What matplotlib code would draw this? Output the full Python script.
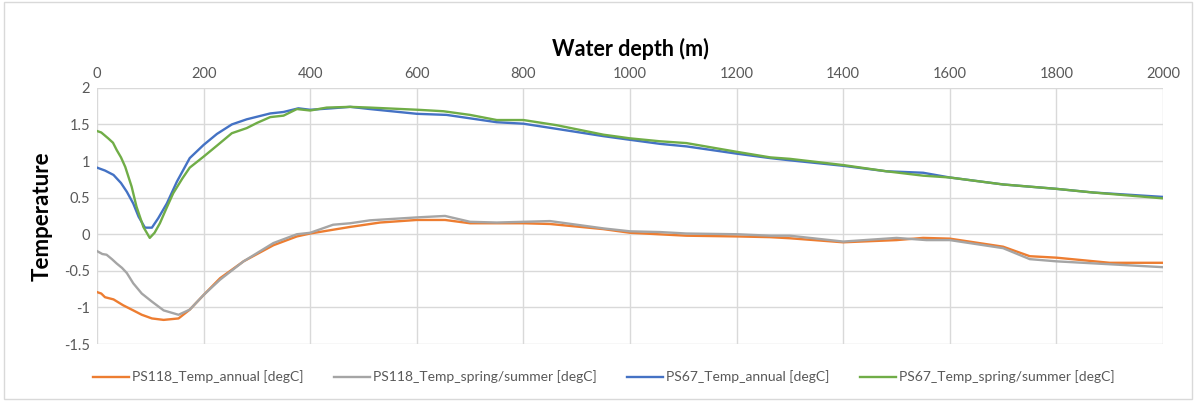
import matplotlib
matplotlib.use("Agg")
import matplotlib.pyplot as plt
from matplotlib.patches import Rectangle

plt.rcParams['font.family'] = ['Lato', 'DejaVu Sans']
plt.rcParams['axes.unicode_minus'] = False

# PS67 annual (blue)
ps67_ann_depth = [0, 15, 31, 45, 56, 68, 78, 90, 103, 115, 131, 150, 174, 200, 225, 253, 281, 325, 350, 378,
                  400, 440, 475, 512, 600, 656, 750, 800, 862, 950, 1000, 1056, 1106, 1201, 1263, 1300, 1400,
                  1481, 1550, 1600, 1700, 1800, 1869, 2000]
ps67_ann_temp = [0.91, 0.87, 0.81, 0.70, 0.58, 0.42, 0.24, 0.09, 0.09, 0.22, 0.42, 0.72, 1.04, 1.22, 1.37, 1.50,
                 1.57, 1.65, 1.67, 1.72, 1.70, 1.72, 1.74, 1.71, 1.645, 1.63, 1.53, 1.51, 1.44, 1.34, 1.29, 1.235,
                 1.20, 1.10, 1.04, 1.01, 0.935, 0.86, 0.84, 0.775, 0.68, 0.62, 0.57, 0.51]

# PS67 spring/summer (green)
ps67_ss_depth = [0, 8, 21, 30, 37, 45, 53, 65, 74, 87, 99, 108, 118, 130, 143, 160, 174, 200, 225, 253, 281,
                 300, 325, 350, 375, 400, 431, 475, 512, 602, 650, 700, 750, 800, 862, 950, 1000, 1056, 1106,
                 1201, 1263, 1300, 1400, 1481, 1550, 1600, 1700, 1800, 1869, 2000]
ps67_ss_temp = [1.41, 1.39, 1.31, 1.25, 1.15, 1.05, 0.92, 0.65, 0.38, 0.10, -0.05, 0.02, 0.15, 0.35, 0.56, 0.76,
                0.91, 1.06, 1.21, 1.38, 1.45, 1.52, 1.60, 1.62, 1.71, 1.69, 1.73, 1.74, 1.73, 1.70, 1.68, 1.63,
                1.56, 1.56, 1.49, 1.36, 1.31, 1.27, 1.245, 1.125, 1.05, 1.03, 0.945, 0.86, 0.80, 0.775, 0.68,
                0.62, 0.57, 0.49]

# PS118 spring/summer (gray)
ps118_ss_depth = [0, 10, 18, 28, 37, 47, 56, 68, 84, 103, 125, 153, 174, 200, 231, 275, 331, 375, 400, 443,
                  475, 512, 600, 653, 700, 750, 800, 850, 950, 1000, 1056, 1106, 1201, 1263, 1300, 1400, 1500,
                  1556, 1600, 1700, 1750, 1800, 1900, 2000]
ps118_ss_temp = [-0.23, -0.27, -0.28, -0.34, -0.40, -0.46, -0.53, -0.67, -0.81, -0.92, -1.04, -1.10, -1.03,
                 -0.83, -0.62, -0.37, -0.12, 0.0, 0.02, 0.13, 0.15, 0.19, 0.23, 0.25, 0.17, 0.16, 0.17, 0.18,
                 0.08, 0.04, 0.03, 0.01, 0.0, -0.02, -0.02, -0.10, -0.05, -0.08, -0.08, -0.19, -0.34, -0.37,
                 -0.41, -0.45]

# PS118 annual (orange)
ps118_ann_depth = [0, 8, 15, 31, 49, 68, 84, 103, 125, 153, 174, 200, 231, 275, 331, 375, 400, 475, 531, 600,
                   653, 700, 750, 800, 850, 950, 1000, 1106, 1201, 1263, 1300, 1400, 1500, 1550, 1600, 1700,
                   1750, 1800, 1900, 2000]
ps118_ann_temp = [-0.79, -0.81, -0.86, -0.89, -0.97, -1.04, -1.10, -1.15, -1.17, -1.15, -1.03, -0.83, -0.60,
                  -0.37, -0.15, -0.03, 0.01, 0.10, 0.16, 0.195, 0.195, 0.15, 0.15, 0.15, 0.14, 0.07, 0.02,
                  -0.02, -0.03, -0.04, -0.055, -0.11, -0.08, -0.05, -0.06, -0.17, -0.30, -0.32, -0.39, -0.39]

x_ticks = list(range(0, 2001, 200))
y_ticks = [-1.5, -1, -0.5, 0, 0.5, 1, 1.5, 2]
y_tick_labels = ['-1.5', '-1', '-0.5', '0', '0.5', '1', '1.5', '2']

series = [
    (ps118_ann_depth, ps118_ann_temp, 'PS118_Temp_annual [degC]', '#ED7D31'),
    (ps118_ss_depth, ps118_ss_temp, 'PS118_Temp_spring/summer [degC]', '#A5A5A5'),
    (ps67_ann_depth, ps67_ann_temp, 'PS67_Temp_annual [degC]', '#4472C4'),
    (ps67_ss_depth, ps67_ss_temp, 'PS67_Temp_spring/summer [degC]', '#70AD47'),
]

fig = plt.figure(figsize=(11.96, 4.01), dpi=100)
fig.patches.append(Rectangle((0.003, 0.005), 0.994, 0.99, transform=fig.transFigure,
                             fill=False, edgecolor='#D9D9D9', linewidth=1))
ax = fig.add_axes([0.0811, 0.142, 0.8913, 0.639])

for d, t, lab, c in series:
    ax.plot(d, t, color=c, linewidth=1.7, label=lab, solid_joinstyle='round')

ax.set_xlim(0, 2000)
ax.set_ylim(-1.5, 2)
ax.set_xticks(x_ticks)
ax.set_yticks(y_ticks)
ax.set_yticklabels(y_tick_labels)
ax.xaxis.tick_top()
ax.xaxis.set_label_position('top')
ax.grid(True, color='#D9D9D9', linewidth=1)
ax.set_axisbelow(True)
for s in ax.spines.values():
    s.set_visible(False)
ax.tick_params(axis='both', length=0, labelsize=10.5, labelcolor='#595959', pad=5)
ax.set_xlabel('Water depth (m)', fontsize=15.5, fontweight='bold', labelpad=8)
ax.set_ylabel('Temperature', fontsize=16, fontweight='bold', labelpad=8)

fig.legend(loc='center', bbox_to_anchor=(0.505, 0.06), ncol=4, frameon=False,
           fontsize=10, handlelength=2.6, handletextpad=0.2, columnspacing=2.2,
           labelcolor='#595959')

fig.savefig('out.png', dpi=100)
